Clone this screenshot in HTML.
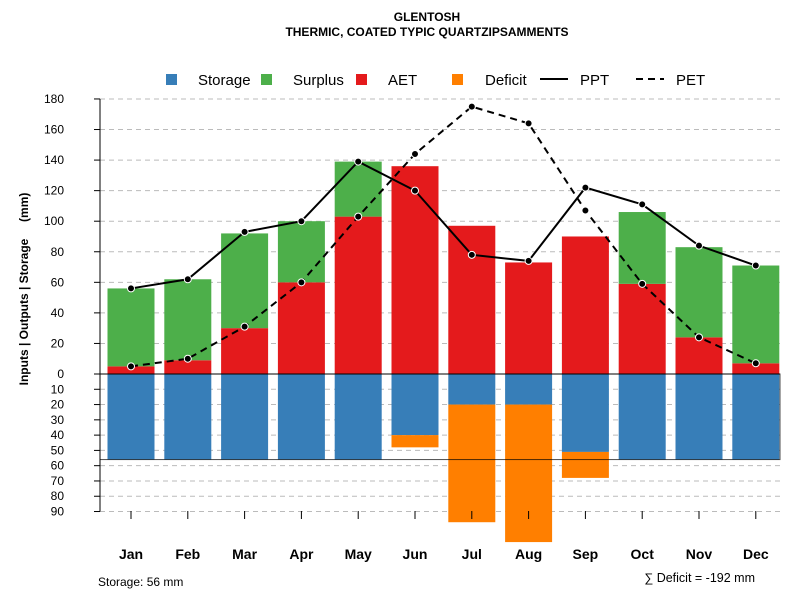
<!DOCTYPE html>
<html><head><meta charset="utf-8"><style>
body{margin:0;background:#fff;}
svg{display:block;font-family:"Liberation Sans",sans-serif;}
</style></head><body>
<svg id="c" width="800" height="600"></svg>
<script>
const months=["Jan","Feb","Mar","Apr","May","Jun","Jul","Aug","Sep","Oct","Nov","Dec"];
const aet=[5,9,30,60,103,136,97,73,90,59,24,7];
const surplus=[51,53,62,40,36,0,0,0,0,47,59,64];
const storage=[56,56,56,56,56,40,20,20,51,56,56,56];
const deficit=[0,0,0,0,0,8,77,90,17,0,0,0];
const ppt=[56,62,93,100,139,120,78,74,122,111,84,71];
const pet=[5,10,31,60,103,144,175,164,107,59,24,7];
const posTicks=[0,20,40,60,80,100,120,140,160,180];
const negTicks=[10,20,30,40,50,60,70,80,90];
const awc=56;
const NS="http://www.w3.org/2000/svg";
const svg=document.getElementById("c");
const y0=374,k=1.528;
function y(v){return y0-v*k;}
function x(i){return 131+i*56.8;}
const bw=47;
function el(t,a,p){const e=document.createElementNS(NS,t);for(const q in a)e.setAttribute(q,a[q]);(p||svg).appendChild(e);return e;}
let t=el("text",{x:427,y:21,"text-anchor":"middle","font-size":12,"font-weight":"bold"});t.textContent="GLENTOSH";


t=el("text",{x:427,y:36,"text-anchor":"middle","font-size":12,"font-weight":"bold"});t.textContent="THERMIC, COATED TYPIC QUARTZIPSAMMENTS";


posTicks.forEach(v=>{if(v>0)el("line",{x1:100,x2:780,y1:y(v),y2:y(v),stroke:"#bbb","stroke-dasharray":"5,4"});
 const l=el("text",{x:64,y:y(v)+4,"text-anchor":"end","font-size":12});l.textContent=v;
 
 
 el("line",{x1:94,x2:100,y1:y(v),y2:y(v),stroke:"#000"});});
negTicks.forEach(v=>{el("line",{x1:100,x2:780,y1:y(-v),y2:y(-v),stroke:"#bbb","stroke-dasharray":"5,4"});
 const l=el("text",{x:64,y:y(-v)+4,"text-anchor":"end","font-size":12});l.textContent=v;
 
 
 el("line",{x1:94,x2:100,y1:y(-v),y2:y(-v),stroke:"#000"});});
el("line",{x1:100,x2:100,y1:y(180),y2:y(-90),stroke:"#000"});
t=el("text",{x:0,y:0,"font-size":12,"font-weight":"bold","text-anchor":"middle",transform:"translate(28,289) rotate(-90)","xml:space":"preserve"});
t.style.whiteSpace="pre";
t.textContent="Inputs | Outputs | Storage     (mm)";


months.forEach((m,i)=>{
 const cx=x(i),l=cx-bw/2;
 let r=el("rect",{x:l,y:y(aet[i]),width:bw,height:aet[i]*k,fill:"#E41A1C"});
 
 if(surplus[i]>0){r=el("rect",{x:l,y:y(aet[i]+surplus[i]),width:bw,height:surplus[i]*k,fill:"#4DAF4A"});
 }
 r=el("rect",{x:l,y:y0,width:bw,height:storage[i]*k,fill:"#377EB8"});
 
 if(deficit[i]>0){r=el("rect",{x:l,y:y(-storage[i]),width:bw,height:deficit[i]*k,fill:"#FF7F00"});
 }
 el("line",{x1:cx,x2:cx,y1:511,y2:519,stroke:"#000"});
 const lb=el("text",{x:cx,y:559,"text-anchor":"middle","font-size":14,"font-weight":"bold"});lb.textContent=m;
 
});
el("rect",{x:100,y:y0,width:680,height:awc*k,fill:"none",stroke:"#000","stroke-opacity":0.7});
el("line",{x1:100,x2:780,y1:y0,y2:y0,stroke:"#000"});
function series(arr,dash,name){
 const p=el("polyline",{points:arr.map((v,i)=>x(i)+","+y(v)).join(" "),fill:"none",stroke:"#000","stroke-width":2,"stroke-dasharray":dash});
 
 arr.forEach((v,i)=>{const c=el("circle",{cx:x(i),cy:y(v),r:3.5,fill:"#000",stroke:"#fff","stroke-width":1});
 });
}
series(pet,"7,5","pet");series(ppt,"none","ppt");
const lg=[["Storage","#377EB8",171,198],["Surplus","#4DAF4A",266,293],["AET","#E41A1C",361,388],["Deficit","#FF7F00",457,485]];
lg.forEach(a=>{const r=el("rect",{x:a[2]-5,y:74,width:11,height:11,fill:a[1]});
 
 const tx=el("text",{x:a[3],y:85,"font-size":15});tx.textContent=a[0];
 });
el("line",{x1:540,x2:568,y1:79,y2:79,stroke:"#000","stroke-width":2});
t=el("text",{x:580,y:85,"font-size":15});t.textContent="PPT";

el("line",{x1:636,x2:664,y1:79,y2:79,stroke:"#000","stroke-width":2,"stroke-dasharray":"7,5"});
t=el("text",{x:676,y:85,"font-size":15});t.textContent="PET";

t=el("text",{x:98,y:586,"font-size":12});t.textContent="Storage: "+awc+" mm";

t=el("text",{x:755,y:582,"font-size":12.5,"text-anchor":"end"});t.textContent="∑ Deficit = -"+deficit.reduce((a,b)=>a+b,0)+" mm";

</script>
</body></html>
